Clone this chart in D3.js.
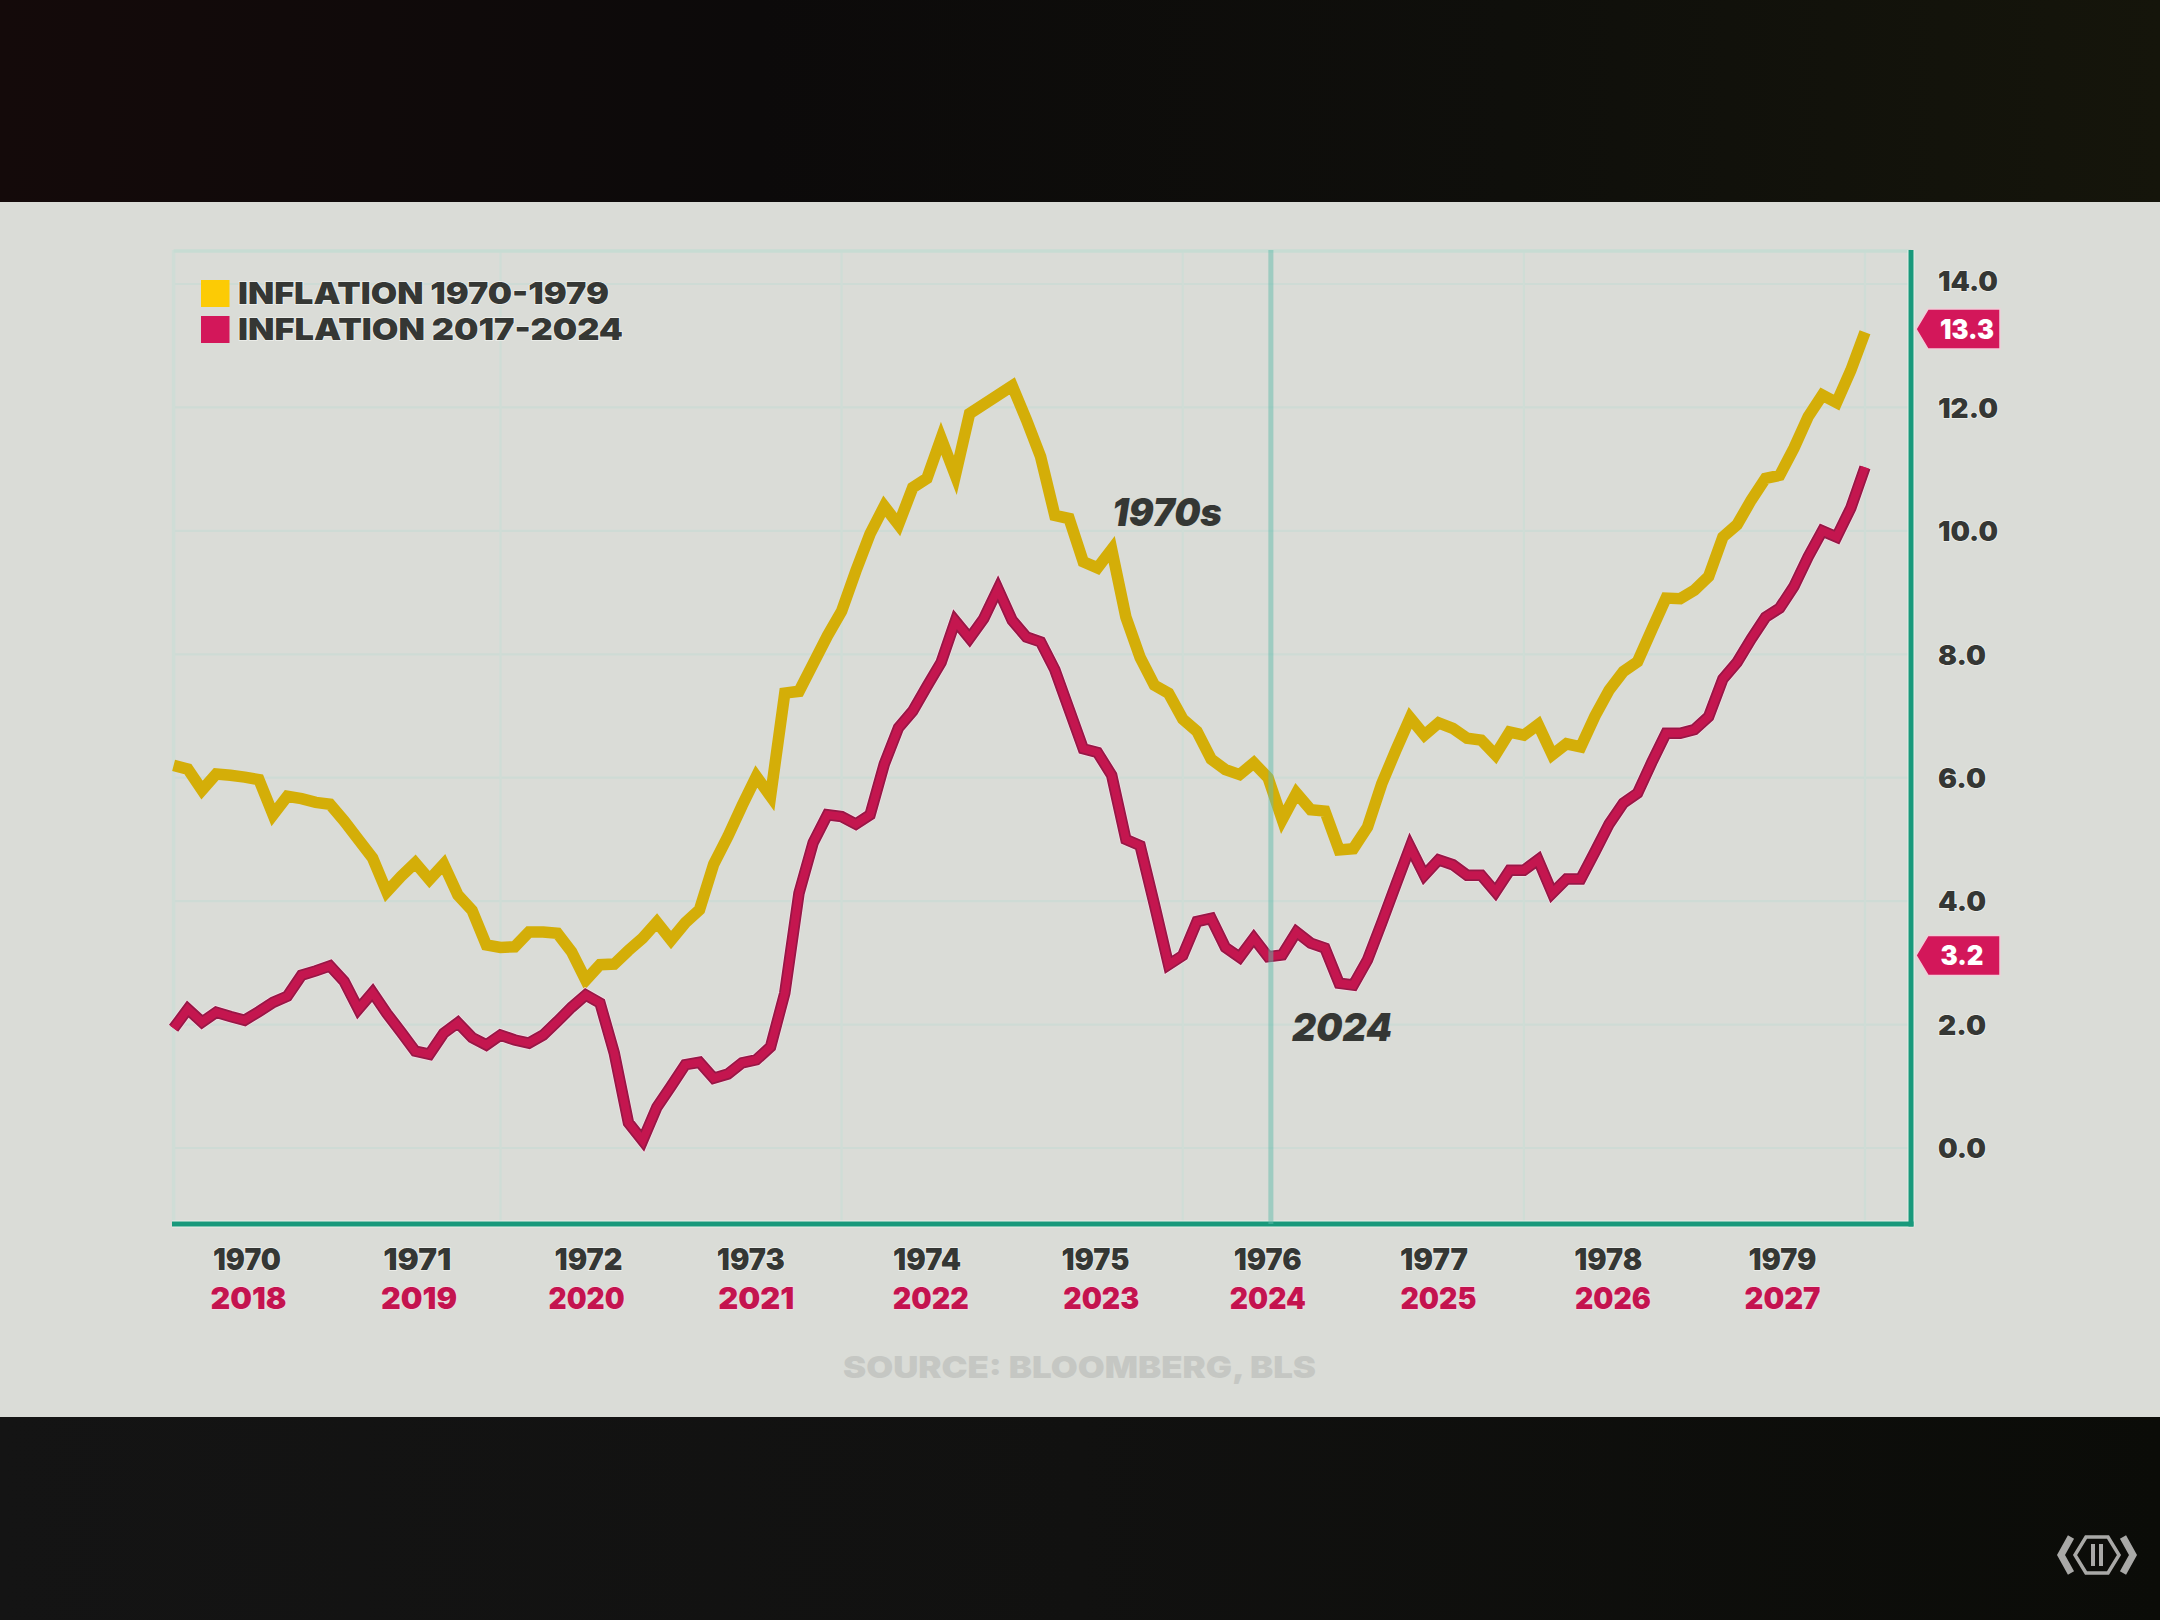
<!DOCTYPE html>
<html><head><meta charset="utf-8">
<script src="https://cdn.jsdelivr.net/npm/d3@7"></script>
<style>html,body{margin:0;padding:0;background:#0c0c0a}svg{display:block}text{font-family:Inter,Lato,sans-serif;font-weight:900}</style>
</head><body><svg id="c" width="2160" height="1620" viewBox="0 0 2160 1620"></svg>
<script>
const inflation1970s = [
6.2,6.14,5.8,6.06,6.04,6.01,5.97,5.4,5.7,5.66,5.6,5.57,
5.3,5.0,4.7,4.15,4.4,4.62,4.35,4.6,4.1,3.85,3.29,3.25,
3.26,3.5,3.5,3.48,3.18,2.72,2.97,2.98,3.2,3.4,3.66,3.37,
3.65,3.86,4.6,5.05,5.55,6.02,5.7,7.37,7.4,7.85,8.3,8.7,
9.35,9.95,10.4,10.1,10.7,10.85,11.5,10.9,11.9,12.05,12.2,12.35,
11.8,11.2,10.25,10.2,9.5,9.4,9.7,8.6,7.95,7.5,7.37,6.95,
6.75,6.3,6.13,6.05,6.24,6.0,5.32,5.75,5.48,5.46,4.83,4.85,
5.2,5.9,6.45,6.97,6.69,6.89,6.8,6.64,6.61,6.37,6.74,6.69,
6.86,6.37,6.55,6.5,7.0,7.42,7.72,7.88,8.4,8.91,8.9,9.04,
9.26,9.9,10.1,10.5,10.85,10.9,11.34,11.85,12.2,12.08,12.6,13.22];
const inflation2017s = [
1.94,2.25,2.04,2.2,2.13,
2.07,2.21,2.36,2.46,2.8,2.87,2.95,2.7,2.25,2.52,2.18,1.88,
1.57,1.52,1.86,2.03,1.79,1.67,1.83,1.75,1.7,1.83,2.05,2.28,
2.48,2.35,1.54,0.41,0.12,0.66,1.0,1.35,1.39,1.13,1.2,1.38,
1.43,1.64,2.51,4.13,4.95,5.4,5.37,5.25,5.4,6.22,6.81,7.08,
7.48,7.87,8.54,8.26,8.58,9.06,8.55,8.28,8.2,7.75,7.11,6.47,
6.41,6.04,5.0,4.9,3.95,2.97,3.12,3.67,3.72,3.25,3.09,3.4,
3.1,3.13,3.5,3.32,3.24,2.67,2.64,3.05,3.65,4.27,4.88,4.42,
4.67,4.59,4.42,4.42,4.15,4.5,4.5,4.67,4.13,4.36,4.36,4.8,
5.25,5.59,5.75,6.25,6.72,6.72,6.78,6.99,7.6,7.87,8.25,8.6,
8.75,9.1,9.58,10.0,9.9,10.37,11.03];
const yearsTop = [1970,1971,1972,1973,1974,1975,1976,1977,1978,1979];
const yearsBottom = [2018,2019,2020,2021,2022,2023,2024,2025,2026,2027];
const yTicks = [0,2,4,6,8,10,12,14];
const gridMonths = [0,23,47,71,95,119];
const highlightMonth = 77.2;
const tagValues = [13.27,3.12];
const tagLabels = ["13.3","3.2"];
const legendLabels = ["INFLATION 1970-1979","INFLATION 2017-2024"];
const seriesColors = ["#d4ae08","#c4164f"];
const legendColors = ["#fccb05","#d3175a"];

const svg = d3.select("#c");
const defs = svg.append("defs");
function grad(id,stops){const g=defs.append("linearGradient").attr("id",id);stops.forEach(s=>g.append("stop").attr("offset",s[0]).attr("stop-color",s[1]));}
grad("gt",[[0,"#140a0a"],[0.35,"#0c0a0a"],[0.7,"#0f0f0b"],[1,"#15150b"]]);
grad("gb",[[0,"#141414"],[0.5,"#111110"],[1,"#0b0c08"]]);
svg.append("rect").attr("width",2160).attr("height",203).attr("fill","url(#gt)");
svg.append("rect").attr("y",1417).attr("width",2160).attr("height",203).attr("fill","url(#gb)");
svg.append("rect").attr("y",202).attr("width",2160).attr("height",1215).attr("fill","#dadcd7");

const x = d3.scaleLinear().domain([0,119]).range([173.6,1865]);
const y = d3.scaleLinear().domain([0,14]).range([1148,284]);
const plotTop=250, plotBottom=1224, axisRight=1911;

// grid
const grid = svg.append("g").attr("fill","none");
grid.selectAll(".h").data(yTicks).join("line").attr("x1",173.6).attr("x2",axisRight)
  .attr("y1",d=>y(d)).attr("y2",d=>y(d)).attr("stroke","#cedbd5").attr("stroke-width",2.2);
grid.selectAll(".v").data(gridMonths).join("line").attr("x1",d=>x(d)).attr("x2",d=>x(d))
  .attr("y1",plotTop).attr("y2",plotBottom).attr("stroke","#cfddd6").attr("stroke-width",d=>d===0?3.5:2.2);
grid.append("line").attr("x1",173.6).attr("x2",axisRight).attr("y1",plotTop+1).attr("y2",plotTop+1).attr("stroke","#c7dcd3").attr("stroke-width",3.5);

// axes frame
svg.append("line").attr("x1",172).attr("x2",axisRight+2.5).attr("y1",plotBottom).attr("y2",plotBottom).attr("stroke","#e6f0ea").attr("stroke-width",7);
svg.append("line").attr("x1",axisRight).attr("x2",axisRight).attr("y1",plotTop).attr("y2",plotBottom+2.5).attr("stroke","#e6f0ea").attr("stroke-width",7);
svg.append("line").attr("x1",172).attr("x2",axisRight+2.5).attr("y1",plotBottom).attr("y2",plotBottom).attr("stroke","#18997b").attr("stroke-width",5);
svg.append("line").attr("x1",axisRight).attr("x2",axisRight).attr("y1",plotTop).attr("y2",plotBottom+2.5).attr("stroke","#18997b").attr("stroke-width",5);

// lines
const line = d3.line().x((d,i)=>x(i)).y(d=>y(d)).curve(d3.curveLinear);
function drawLine(data,color,edge,halo){
  const s=svg.append("g").attr("fill","none").attr("stroke-linejoin","miter").attr("stroke-miterlimit",6);
  if(halo) s.append("path").attr("d",line(data)).attr("stroke",halo).attr("stroke-width",13);
  if(edge) s.append("path").attr("d",line(data)).attr("stroke",edge).attr("stroke-width",11.5);
  s.append("path").attr("d",line(data)).attr("stroke",color).attr("stroke-width",edge?8:11.5);
}
drawLine(inflation1970s,seriesColors[0],null,null);
drawLine(inflation2017s,seriesColors[1],"#971846","#f3e0e8");

// highlight sits above the lines
svg.append("line").attr("x1",x(highlightMonth)).attr("x2",x(highlightMonth)).attr("y1",plotTop).attr("y2",plotBottom)
  .attr("stroke","#62bbab").attr("stroke-opacity",0.5).attr("stroke-width",5);

const halo = s=>s.attr("stroke","#eef0ec").attr("stroke-width",1.5).attr("paint-order","stroke");

// y axis labels
const yAxis = d3.axisRight(y).tickValues(yTicks).tickSize(0).tickPadding(0).tickFormat(d3.format(".1f"));
const yG = svg.append("g").attr("transform","translate(1938,0)").call(yAxis);
yG.select(".domain").remove();
yG.selectAll("text").attr("x",0).attr("y",d=>d===14?-3:0).attr("text-anchor","start").attr("dy","0.36em")
  .attr("font-size",27).attr("fill","#353734").call(halo)
  .style("font-family","Inter").attr("textLength",d=>d>=10?60:48).attr("lengthAdjust","spacingAndGlyphs");

// x axis labels
const xTop = d3.scalePoint().domain(yearsTop).range([246.5,1779]);
const xBot = d3.scalePoint().domain(yearsBottom).range([248,1783]);
const topNudge=[0,0,1,-7,-1,-3,-1,-5,-1,3], botNudge=[0,0,-3,-4,0,0,-4,-4,0,-1];
const xa = d3.axisBottom(xTop).tickSize(0).tickPadding(0).tickFormat(d3.format("d"));
const xb = d3.axisBottom(xBot).tickSize(0).tickPadding(0).tickFormat(d3.format("d"));
const xgA = svg.append("g").attr("transform","translate(0,1259)").call(xa);
const xgB = svg.append("g").attr("transform","translate(0,1298)").call(xb);
[xgA,xgB].forEach((g,i)=>{g.select(".domain").remove();
  g.selectAll("text").attr("y",0).attr("dy","0.36em").attr("font-size",30)
   .attr("x",(d,k)=>(i?botNudge:topNudge)[k])
   .attr("fill",i?"#c4134f":"#353734").attr("stroke",i?"#f2d9e2":"#eef0ec").attr("stroke-width",1.5).attr("paint-order","stroke")
   .attr("text-anchor","middle").attr("textLength",i?76:68).attr("lengthAdjust","spacingAndGlyphs");});

// legend
const lg = svg.append("g").selectAll("g").data(legendLabels).join("g").attr("transform",(d,i)=>`translate(201,${292+i*36})`);
lg.append("rect").attr("x",0).attr("y",-12).attr("width",28.5).attr("height",27).attr("fill",(d,i)=>legendColors[i]);
lg.append("text").text(d=>d).attr("x",37).attr("y",1).attr("dy","0.36em").attr("font-size",30).attr("fill","#353734")
  .call(halo).attr("textLength",(d,i)=>i?385:371).attr("lengthAdjust","spacingAndGlyphs");

// tags
const tg = svg.append("g").selectAll("g").data(tagValues).join("g").attr("transform",d=>`translate(0,${y(d)})`);
tg.append("path").attr("d","M1916,0 L1928,-20 L2000,-20 L2000,20 L1928,20 Z").attr("fill","#d3175a").attr("stroke","#f0ced9").attr("stroke-width",1.5);
tg.append("text").text((d,i)=>tagLabels[i]).attr("x",(d,i)=>i?1962:1967).attr("y",0).attr("dy","0.36em").attr("text-anchor","middle")
  .attr("font-size",27).attr("fill","#fff").attr("textLength",(d,i)=>i?43:54).attr("lengthAdjust","spacingAndGlyphs");

// annotations
const notes = svg.append("g").attr("font-size",38).attr("fill","#353734").attr("font-style","italic");
notes.append("text").text("1970s").attr("x",1112).attr("y",526).attr("textLength",110).attr("lengthAdjust","spacingAndGlyphs");
notes.append("text").text("2024").attr("x",1292).attr("y",1041).attr("textLength",100).attr("lengthAdjust","spacingAndGlyphs");

// source
svg.append("text").text("SOURCE: BLOOMBERG, BLS").attr("x",843).attr("y",1378).attr("font-size",30).attr("fill","#c5c7c3")
  .attr("textLength",473).attr("lengthAdjust","spacingAndGlyphs");

// logo
const logo = svg.append("g").attr("transform","translate(2097,1555)").attr("fill","none").attr("stroke","#a9a9a7");
logo.append("path").attr("d","M-26,-18 L-36,0 L-26,18").attr("stroke-width",7);
logo.append("path").attr("d","M26,-18 L36,0 L26,18").attr("stroke-width",7);
logo.append("path").attr("d","M-11,-18 L11,-18 L22,0 L11,18 L-11,18 L-22,0 Z").attr("stroke-width",3.5);
logo.append("path").attr("d","M-4,-11 V11 M4,-11 V11").attr("stroke-width",4);
</script></body></html>
